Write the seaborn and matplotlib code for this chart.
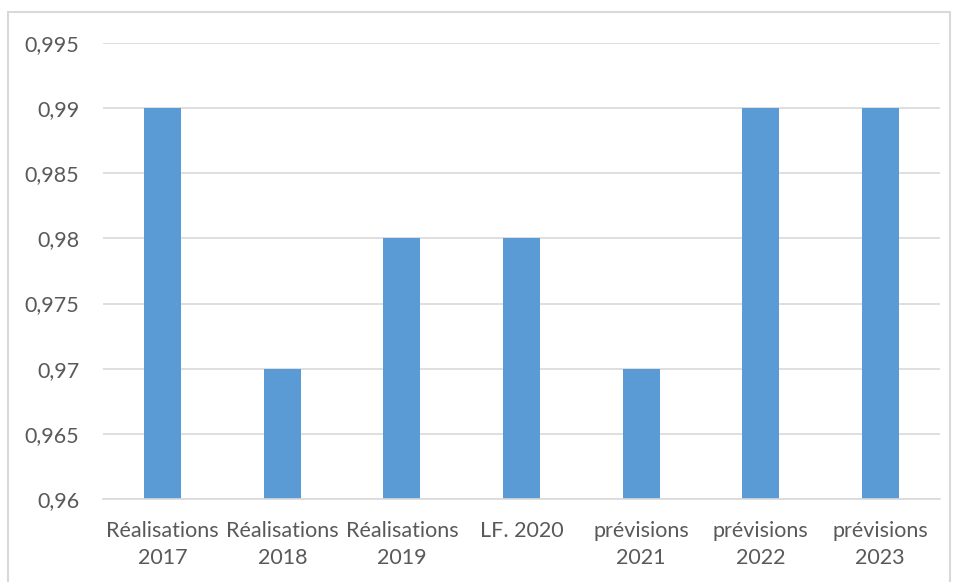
import pandas as pd
import matplotlib.pyplot as plt
import seaborn as sns
from matplotlib.patches import Rectangle
from matplotlib.ticker import FuncFormatter

# Données
categories = ["Réalisations\n2017", "Réalisations\n2018", "Réalisations\n2019", "LF. 2020",
              "prévisions\n2021", "prévisions\n2022", "prévisions\n2023"]
valeurs = [0.99, 0.97, 0.98, 0.98, 0.97, 0.99, 0.99]
graduations = [0.96, 0.965, 0.97, 0.975, 0.98, 0.985, 0.99, 0.995]

df = pd.DataFrame({"cat": categories, "val": valeurs})

sns.set_style("white")
plt.rcParams["font.family"] = ["Lato", "DejaVu Sans"]

fig = plt.figure(figsize=(9.55, 5.82), dpi=100)
ax = fig.add_axes([103 / 955, 1 - 499 / 582, (940 - 103) / 955, (499 - 43) / 582])

sns.barplot(data=df, x="cat", y="val", color="#5B9BD5", width=0.31, ax=ax,
            saturation=1, linewidth=0)

ax.set_ylim(0.96, 0.995)
ax.set_xlim(-0.5, 6.5)
ax.set_yticks(graduations)
ax.yaxis.set_major_formatter(FuncFormatter(lambda v, p: f"{v:g}".replace(".", ",")))
ax.grid(axis="y", color="#D9D9D9", linewidth=1.2)
ax.set_axisbelow(True)
for s in ["left", "right", "top"]:
    ax.spines[s].set_visible(False)
ax.spines["bottom"].set_color("#D9D9D9")
ax.spines["bottom"].set_linewidth(1.2)
ax.tick_params(axis="both", length=0, labelsize=15.5, colors="#595959")
ax.tick_params(axis="x", pad=16)
ax.tick_params(axis="y", pad=17)
for lab in ax.get_xticklabels():
    lab.set_linespacing(1.45)
ax.set_xlabel("")
ax.set_ylabel("")

# cadre du graphique
fig.patches.append(Rectangle((8 / 955, -0.01), (950 - 8) / 955, 1 - 12 / 582 + 0.01,
                             transform=fig.transFigure, fill=False,
                             edgecolor="#D9D9D9", linewidth=1.5))

fig.savefig("out.png", dpi=100)
